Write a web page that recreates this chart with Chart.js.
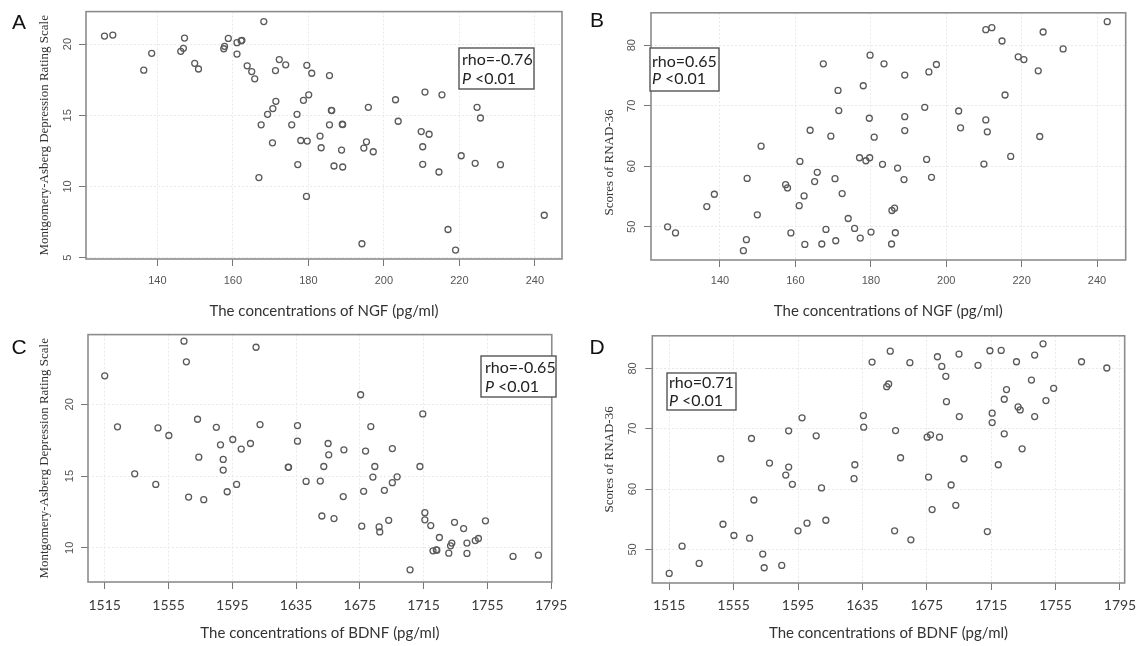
<!DOCTYPE html>
<html><head><meta charset="utf-8">
<script src="https://cdn.jsdelivr.net/npm/chart.js@4.4.0/dist/chart.umd.min.js"></script>
<style>
html,body{margin:0;padding:0;background:#fff;width:1143px;height:646px;overflow:hidden;position:relative}
canvas{position:absolute}
</style></head><body>
<canvas id="cA" width="575" height="323" style="left:0px;top:0px"></canvas>
<canvas id="cB" width="568" height="323" style="left:575px;top:0px"></canvas>
<canvas id="cC" width="575" height="323" style="left:0px;top:323px"></canvas>
<canvas id="cD" width="568" height="323" style="left:575px;top:323px"></canvas>
<script>
// ---- tick labels ----
const ngfTicks = [140,160,180,200,220,240];
const bdnfTicks = [1515,1555,1595,1635,1675,1715,1755,1795];
const madrsTicks = [5,10,15,20];
const rnadTicks = [50,60,70,80];

// ---- Panel A: NGF vs MADRS ----
const ngfA = [126.0,128.2,136.4,138.5,147.2,146.9,146.2,149.9,150.9,158.8,157.8,157.6,161.1,162.4,162.2,161.1,168.2,163.8,165.0,165.8,172.3,174.0,171.3,179.6,180.9,185.6,180.1,178.7,171.4,170.6,169.2,177.0,167.5,175.6,186.1,186.2,185.6,170.5,178.0,179.7,183.1,183.4,177.2,186.8,166.9,179.5,
  189.0,189.1,188.8,189.1,195.9,195.4,194.7,197.2,203.1,203.8,210.9,215.4,209.9,212.0,210.3,210.3,214.6,220.5,224.2,230.9,224.7,225.6,194.2,217.0,219.0,242.5];
const madrsA = [20.56,20.63,18.17,19.35,20.42,19.70,19.49,18.65,18.25,20.40,19.84,19.67,20.10,20.26,20.23,19.30,21.58,18.47,18.07,17.56,18.91,18.54,18.14,18.51,17.95,17.79,16.44,16.05,15.98,15.47,15.07,15.07,14.33,14.33,15.35,15.33,14.33,13.07,13.23,13.19,13.54,12.72,11.54,11.44,10.63,9.30,
  14.37,14.35,12.56,11.37,15.56,13.14,12.70,12.44,16.09,14.58,16.63,16.44,13.86,13.67,12.79,11.56,11.02,12.16,11.63,11.53,15.56,14.81,5.98,6.98,5.54,7.98];

// ---- Panel B: NGF vs RNAD-36 ----
const ngfB = [126.1,128.2,136.5,138.5,146.2,147.0,147.2,149.9,150.9,157.4,157.9,158.8,161.0,161.2,162.3,162.5,163.9,165.1,165.8,167.0,167.4,168.1,169.4,170.5,170.7,171.3,171.5,172.4,174.0,175.7,177.0,177.2,178.0,178.7,179.7,179.6,179.8,180.05,180.9,183.1,183.5,
  185.6,186.3,186.5,185.5,189.0,189.0,189.0,187.1,188.8,194.3,194.8,196.1,195.4,197.4,203.3,203.8,210.5,212.1,214.8,215.6,210.5,210.9,210.0,217.1,219.1,220.6,224.4,225.7,231.0,224.8,242.7];
const rnadB = [50.0,49.0,53.35,55.38,46.06,47.87,58.0,51.98,63.33,56.97,56.43,49.0,53.5,60.8,55.1,47.1,65.96,57.47,59.0,47.16,76.93,49.57,64.98,57.96,47.7,72.54,69.2,55.49,51.38,49.74,61.41,48.15,73.31,60.92,61.41,67.94,78.36,49.13,64.81,60.32,76.93,
  52.7,53.08,49.02,47.16,75.07,68.2,65.9,59.7,57.8,69.75,61.14,58.18,75.6,76.82,69.14,66.35,82.58,82.9,80.7,71.78,67.66,65.69,60.37,61.63,78.08,77.64,75.78,82.19,79.4,64.92,83.9];

// ---- Panel C: BDNF vs MADRS ----
const bdnfC = [1515,1564.7,1566.2,1609.9,1523.0,1548.4,1555.2,1533.8,1547.0,1573.2,1574.0,1567.6,1577.1,1585.0,1587.6,1589.3,1589.3,1591.8,1595.3,1597.7,1600.6,1606.4,1612.4,1630.1,1630.3,1635.9,1635.9,1641.3,1650.2,1655.1,1655.5,1652.4,1651.2,1658.8,1665.0,1664.6,1675.5,1681.9,1678.6,1684.4,1683.2,1677.4,1676.2,1687.1,1687.5,1693.1,1690.4,1695.4,1698.4,1695.4,1714.5,1712.7,1715.8,1715.8,1719.5,1706.5,1724.9,1720.9,1723.0,1723.3,1730.8,1732.7,1731.9,1734.4,1740.1,1742.2,1742.2,1747.4,1749.4,1753.8,1771.1,1787.0];
const madrsC = [21.99,24.40,22.96,23.98,18.43,18.36,17.83,15.16,14.42,18.96,16.32,13.54,13.36,18.40,17.18,16.16,15.42,13.91,17.55,14.42,16.88,17.27,18.59,15.63,15.61,18.52,17.43,14.63,14.65,17.27,16.48,15.67,12.22,12.04,16.83,13.57,20.67,18.45,16.74,15.67,14.93,13.94,11.51,11.46,11.11,11.92,14.01,14.54,14.95,16.92,19.33,15.67,12.45,11.95,11.55,8.47,10.72,9.79,9.86,9.84,9.63,10.33,10.14,11.78,11.34,10.33,9.61,10.51,10.65,11.88,9.40,9.49];

// ---- Panel D: BDNF vs RNAD-36 ----
const bdnfD = [1515,1523.0,1533.6,1547.0,1548.4,1555.2,1564.9,1566.1,1567.6,1573.1,1574.0,1577.3,1584.9,1587.4,1589.2,1589.2,1591.5,1595.0,1597.5,1600.6,1606.3,1609.6,1612.3,1629.8,1630.3,1635.6,1635.8,1641.0,
  1652.3,1650.1,1651.3,1664.5,1655.6,1658.7,1655.0,1665.1,1681.6,1684.3,1686.8,1687.2,1695.0,1695.2,1675.2,1677.3,1682.9,1676.1,1698.1,1690.1,1693.0,1678.3,1706.8,1714.2,1721.2,1715.6,1715.6,1723.1,1719.4,1712.6,1724.5,1723.1,1731.7,1733.0,1734.2,1730.7,1740.0,1742.0,1747.2,1742.0,1749.0,1753.8,1771.1,1786.8];
const rnadD = [46.02,50.54,47.68,65.02,54.17,52.3,51.86,68.38,58.19,49.22,46.96,64.31,47.35,62.32,69.65,63.65,60.78,53.07,71.8,54.34,68.82,60.18,54.83,61.72,64.03,72.18,70.25,81.05,
  82.86,76.97,77.41,80.94,69.7,65.19,53.07,51.59,81.93,80.33,78.68,74.49,82.37,72.02,68.6,68.99,68.6,61.99,65.02,60.67,57.31,56.6,80.5,82.92,82.97,72.57,71.02,69.15,64.03,52.96,76.48,74.88,73.61,73.12,66.67,81.1,78.07,82.2,84.07,72.02,74.66,76.7,81.1,80.06];

// ---- decoration plugin: frame, panel letter, statistics box ----
const deco = {
  id: 'deco',
  afterDraw(chart, args, o) {
    const ctx = chart.ctx, a = chart.chartArea;
    ctx.save();
    ctx.strokeStyle = '#8c8c8c'; ctx.lineWidth = 1.6;
    ctx.strokeRect(a.left, a.top, a.right - a.left, a.bottom - a.top);
    ctx.fillStyle = '#111'; ctx.font = '21px "Liberation Sans", Arial, sans-serif';
    ctx.textAlign = 'center'; ctx.textBaseline = 'middle';
    ctx.fillText(o.letter, o.lx, o.ly);
    const b = o.box;
    ctx.fillStyle = '#fff'; ctx.fillRect(b.x, b.y, b.w, b.h);
    ctx.strokeStyle = '#555'; ctx.lineWidth = 1.4;
    ctx.strokeRect(b.x, b.y, b.w, b.h);
    ctx.fillStyle = '#222'; ctx.textAlign = 'left';
    ctx.font = '16px Lato, "Open Sans", sans-serif';
    ctx.fillText(o.rho, b.tx, b.t1);
    ctx.font = 'italic 16px Lato, "Open Sans", sans-serif';
    ctx.fillText('P', b.tx, b.t2);
    const pw = ctx.measureText('P').width;
    ctx.font = '16px Lato, "Open Sans", sans-serif';
    ctx.fillText(' <0.01', b.tx + pw, b.t2);
    ctx.restore();
  }
};

function panel(id, o) {
  const pts = o.xs.map((x, i) => ({x: x, y: o.ys[i]}));
  new Chart(document.getElementById(id), {
    type: 'scatter',
    data: {datasets: [{data: pts, pointRadius: 3, pointHoverRadius: 3, pointBorderWidth: 1.3,
      borderColor: '#5a5a5a', pointBorderColor: '#5a5a5a', backgroundColor: 'rgba(0,0,0,0)', pointBackgroundColor: 'rgba(0,0,0,0)'}]},
    options: {
      responsive: false, animation: false, events: [],
      layout: {padding: o.pad},
      plugins: {legend: {display: false}, tooltip: {enabled: false}, deco: o.deco},
      scales: {
        x: {type: 'linear', min: o.xr[0], max: o.xr[1],
          afterBuildTicks: s => { s.ticks = o.xt.filter(v => v >= s.min && v <= s.max).map(v => ({value: v})); },
          afterFit: s => { s.height = o.hx; },
          ticks: {autoSkip: false, maxRotation: 0, minRotation: 0, padding: o.xpad, color: o.xcol, font: o.xfont, callback: v => String(v)},
          grid: {color: '#e9e9e9', lineWidth: 1, tickLength: 7, tickColor: '#777', tickWidth: 1},
          border: {display: false, dash: [2, 2]},
          title: {display: true, text: o.xtitle, color: '#333', font: {family: 'Lato', size: 15}, padding: 0}
        },
        y: {type: 'linear', min: o.yr[0], max: o.yr[1],
          afterBuildTicks: s => { s.ticks = o.yt.filter(v => v >= s.min && v <= s.max).map(v => ({value: v})); },
          afterFit: s => { s.width = o.wy; },
          ticks: {autoSkip: false, minRotation: 90, maxRotation: 90, crossAlign: 'center', padding: o.ypad, color: '#555',
            font: {family: 'Liberation Sans', size: 11}, callback: v => String(v)},
          grid: {color: '#e9e9e9', lineWidth: 1, tickLength: 7, tickColor: '#777', tickWidth: 1},
          border: {display: false, dash: [2, 2]},
          title: {display: true, text: o.ytitle, color: '#333', font: {family: 'Liberation Serif', size: 13}, padding: 0}
        }
      }
    },
    plugins: [deco]
  });
}

const smallTick = {family: 'Liberation Sans', size: 11};
const bigTick = {family: 'Lato', size: 14};
const madrsTitle = 'Montgomery-Asberg Depression Rating Scale';
const rnadTitle = 'Scores of RNAD-36';

panel('cA', {xs: ngfA, ys: madrsA, xr: [121.1, 247.2], yr: [4.91, 22.28], xt: ngfTicks, yt: madrsTicks,
  pad: {left: 37.2, top: 10, right: 13, bottom: 3}, wy: 48.8, hx: 61, xpad: 8.4, ypad: 5, xcol: '#555', xfont: smallTick,
  xtitle: 'The concentrations of NGF (pg/ml)', ytitle: madrsTitle,
  deco: {letter: 'A', lx: 19, ly: 23, rho: 'rho=-0.76', box: {x: 459, y: 48, w: 75, h: 41, tx: 462, t1: 60, t2: 79}}});

panel('cB', {xs: ngfB, ys: rnadB, xr: [121.7, 247.6], yr: [44.52, 85.36], xt: ngfTicks, yt: rnadTicks,
  pad: {left: 27.2, top: 11.7, right: 17.3, bottom: 3}, wy: 48.8, hx: 60, xpad: 7.4, ypad: 6.2, xcol: '#555', xfont: smallTick,
  xtitle: 'The concentrations of NGF (pg/ml)', ytitle: rnadTitle + '\u00a0'.repeat(16),
  deco: {letter: 'B', lx: 22, ly: 21, rho: 'rho=0.65', box: {x: 75, y: 48, w: 69, h: 43, tx: 77, t1: 61.5, t2: 79}}});

panel('cC', {xs: bdnfC, ys: madrsC, xr: [1504.5, 1795.4], yr: [7.62, 24.86], xt: bdnfTicks, yt: madrsTicks,
  pad: {left: 37.2, top: 11, right: 17, bottom: 4}, wy: 50.8, hx: 60, xpad: 7.6, ypad: 5, xcol: '#3a3a3a', xfont: bigTick,
  xtitle: 'The concentrations of BDNF (pg/ml)', ytitle: madrsTitle,
  deco: {letter: 'C', lx: 19, ly: 25, rho: 'rho=-0.65', box: {x: 481, y: 33, w: 75, h: 41, tx: 485, t1: 45.3, t2: 63.7}}});

panel('cD', {xs: bdnfD, ys: rnadD, xr: [1504.5, 1797.9], yr: [44.43, 85.4], xt: bdnfTicks, yt: rnadTicks,
  pad: {left: 27.2, top: 12, right: 16.3, bottom: 4}, wy: 50.1, hx: 59, xpad: 6.6, ypad: 6.2, xcol: '#3a3a3a', xfont: bigTick,
  xtitle: 'The concentrations of BDNF (pg/ml)', ytitle: rnadTitle,
  deco: {letter: 'D', lx: 22, ly: 25, rho: 'rho=0.71', box: {x: 92, y: 50, w: 69, h: 37, tx: 94, t1: 60.3, t2: 78}}});
</script>
</body></html>
